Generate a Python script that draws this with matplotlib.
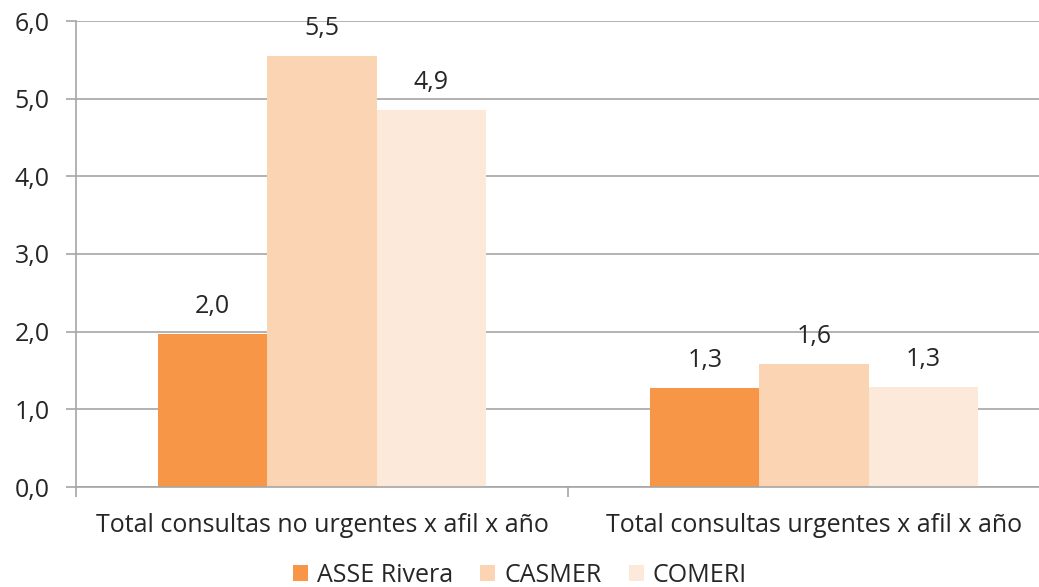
import matplotlib
matplotlib.use("Agg")
import matplotlib.pyplot as plt
import numpy as np
from matplotlib.ticker import FuncFormatter

# datos
categorias = ["Total consultas no urgentes x afil x año",
              "Total consultas urgentes x afil x año"]
series = ["ASSE Rivera", "CASMER", "COMERI"]
asse = [1.97, 1.27]
casmer = [5.55, 1.58]
comeri = [4.85, 1.29]
etiquetas = [["2,0", "1,3"], ["5,5", "1,6"], ["4,9", "1,3"]]
colores = ["#F79646", "#FBD4B4", "#FDE9D9"]

plt.rcParams['font.family'] = ['Open Sans', 'DejaVu Sans']
fig = plt.figure(figsize=(10.39, 5.87), dpi=100)
ax = fig.add_axes([76/1039, 100/587, 984/1039, 466/587])

texto = "#262626"
fs = 18
x = np.arange(len(categorias))
ancho = 0.222
valores = [asse, casmer, comeri]
for i, (nombre, vals) in enumerate(zip(series, valores)):
    pos = x + (i - 1) * ancho
    barras = ax.bar(pos, vals, ancho, color=colores[i], label=nombre, zorder=2)
    for b, txt in zip(barras, etiquetas[i]):
        ax.annotate(txt, (b.get_x() + b.get_width() / 2, b.get_height()),
                    xytext=(0, 11), textcoords="offset points",
                    ha="center", va="bottom", fontsize=fs, color=texto)

ax.set_ylim(0, 6)
ax.set_xlim(-0.5, 1.5)
ax.set_yticks(np.arange(0, 7, 1))
ax.yaxis.set_major_formatter(FuncFormatter(lambda v, p: ("%.1f" % v).replace(".", ",")))
ax.set_xticks(x)
ax.set_xticklabels(categorias)
ax.set_xticks([-0.5, 0.5, 1.5], minor=True)
ax.tick_params(axis="x", which="major", length=0, pad=19, labelsize=fs, labelcolor=texto)
ax.tick_params(axis="x", which="minor", length=7, color="#A6A6A6", width=1.2)
ax.tick_params(axis="y", length=7, color="#A6A6A6", width=1.2, labelsize=fs,
               labelcolor=texto, pad=12)
ax.grid(axis="y", color="#A6A6A6", linewidth=1.2, zorder=0)
for s in ["top", "right"]:
    ax.spines[s].set_visible(False)
for s in ["left", "bottom"]:
    ax.spines[s].set_color("#A6A6A6")
    ax.spines[s].set_linewidth(1.2)

fig.legend(loc="center", bbox_to_anchor=(520/1039, 1 - 575/587), ncol=3, frameon=False,
           fontsize=fs, handlelength=0.6, handleheight=0.6, columnspacing=1.1,
           handletextpad=0.35, labelcolor=texto)

fig.savefig("out.png", dpi=100)
